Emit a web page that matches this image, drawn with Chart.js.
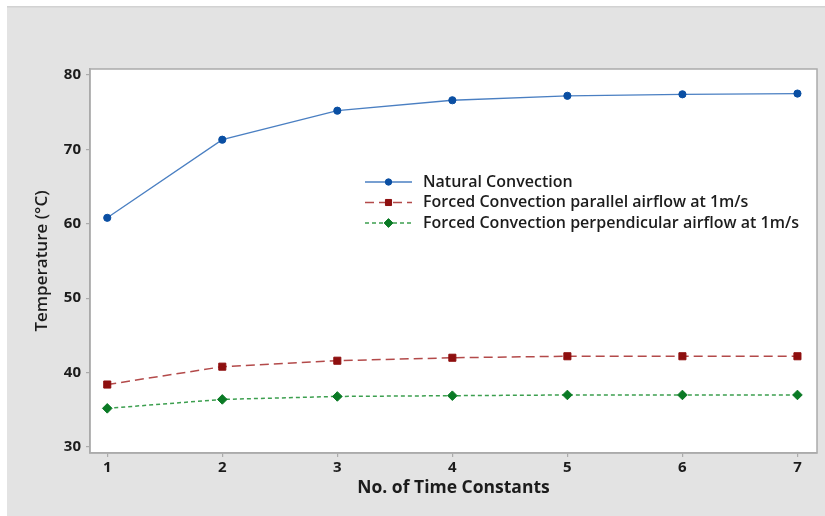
<!DOCTYPE html>
<html>
<head>
<meta charset="utf-8">
<script src="https://cdn.jsdelivr.net/npm/chart.js@4.4.1/dist/chart.umd.min.js"></script>
<style>
  html, body { margin: 0; padding: 0; background: #ffffff; }
  #wrap { width: 825px; height: 516px; }
</style>
</head>
<body>
<div id="wrap"><canvas id="c" width="825" height="516"></canvas></div>
<script>
// Time constants (x) and steady temperatures per cooling case
const timeConstants = [1, 2, 3, 4, 5, 6, 7];
const naturalConvection = [60.8, 71.3, 75.2, 76.6, 77.2, 77.4, 77.5];
const forcedParallel = [38.4, 40.8, 41.6, 42.0, 42.2, 42.2, 42.2];
const forcedPerpendicular = [35.2, 36.4, 36.8, 36.9, 37.0, 37.0, 37.0];
const yTickValues = [30, 40, 50, 60, 70, 80];
const seriesNames = [
  'Natural Convection',
  'Forced Convection parallel airflow at 1m/s',
  'Forced Convection perpendicular airflow at 1m/s'
];

const FONT = '"Open Sans", "DejaVu Sans", sans-serif';
const TEXT = '#1c1c1c';
const FRAME = '#ababab';

function pts(vals) {
  return vals.map((v, i) => ({ x: timeConstants[i], y: v }));
}

// Panel background, white plot area and frame
const panelPlugin = {
  id: 'panel',
  beforeDraw(chart) {
    const { ctx, chartArea: a } = chart;
    ctx.save();
    ctx.fillStyle = '#ffffff';
    ctx.fillRect(0, 0, chart.width, chart.height);
    ctx.fillStyle = '#e3e3e3';
    ctx.fillRect(7, 7, chart.width - 7, chart.height - 7);
    ctx.fillStyle = '#d2d2d2';
    ctx.fillRect(7, 6, chart.width - 7, 1.5);
    ctx.fillStyle = '#ffffff';
    ctx.fillRect(a.left, a.top, a.right - a.left, a.bottom - a.top);
    ctx.restore();
  },
  afterDatasetsDraw(chart) {
    const { ctx, chartArea: a } = chart;
    ctx.save();
    ctx.strokeStyle = FRAME;
    ctx.lineWidth = 1.5;
    ctx.strokeRect(a.left, a.top, a.right - a.left, a.bottom - a.top);
    ctx.restore();
  }
};

// Legend drawn inside the plot area using each dataset's own styling
const insideLegend = {
  id: 'insideLegend',
  afterDraw(chart, args, opts) {
    const { ctx } = chart;
    ctx.save();
    chart.data.datasets.forEach((ds, i) => {
      const y = opts.top + i * opts.rowGap;
      ctx.strokeStyle = ds.borderColor;
      ctx.lineWidth = ds.borderWidth;
      ctx.setLineDash(ds.borderDash || []);
      ctx.beginPath();
      ctx.moveTo(opts.left, y);
      ctx.lineTo(opts.left + opts.sample, y);
      ctx.stroke();
      ctx.setLineDash([]);
      ctx.fillStyle = ds.pointBackgroundColor;
      ctx.strokeStyle = ds.pointBorderColor;
      ctx.lineWidth = 1;
      Chart.helpers.drawPoint(ctx, {
        pointStyle: ds.pointStyle,
        radius: opts.markerRadius[i],
        borderWidth: 1,
        rotation: 0
      }, opts.left + opts.sample / 2, y);
      ctx.fillStyle = TEXT;
      ctx.font = '600 16px ' + FONT;
      ctx.textBaseline = 'middle';
      ctx.textAlign = 'left';
      ctx.fillText(ds.label, opts.textX, y);
    });
    ctx.restore();
  }
};

const chart = new Chart(document.getElementById('c'), {
  type: 'line',
  data: {
    datasets: [
      {
        label: seriesNames[0],
        data: pts(naturalConvection),
        borderColor: '#4a7fc2',
        borderWidth: 1.3,
        pointStyle: 'circle',
        pointRadius: 3.6,
        pointBackgroundColor: '#0a4fa3',
        pointBorderColor: '#0a4fa3',
        pointBorderWidth: 1,
        tension: 0
      },
      {
        label: seriesNames[1],
        data: pts(forcedParallel),
        borderColor: '#b34a4a',
        borderWidth: 1.5,
        borderDash: [9, 5],
        pointStyle: 'rect',
        pointRadius: 5,
        pointBackgroundColor: '#8e0f0f',
        pointBorderColor: '#8e0f0f',
        pointBorderWidth: 1,
        tension: 0
      },
      {
        label: seriesNames[2],
        data: pts(forcedPerpendicular),
        borderColor: '#3c9f4f',
        borderWidth: 1.5,
        borderDash: [4, 3],
        pointStyle: 'rectRot',
        pointRadius: 4.8,
        pointBackgroundColor: '#0a7a25',
        pointBorderColor: '#0a7a25',
        pointBorderWidth: 1,
        tension: 0
      }
    ]
  },
  options: {
    responsive: false,
    animation: false,
    devicePixelRatio: 1,
    layout: { padding: { top: 69, right: 8, left: 0, bottom: 0 } },
    plugins: {
      legend: { display: false },
      tooltip: { enabled: false },
      insideLegend: {
        left: 365, sample: 47, textX: 423, top: 182, rowGap: 20.5,
        markerRadius: [3.2, 4.3, 4.4]
      }
    },
    scales: {
      x: {
        type: 'linear',
        min: 0.85,
        max: 7.17,
        afterBuildTicks(s) { s.ticks = timeConstants.map(v => ({ value: v })); },
        afterFit(s) { s.height = 63; },
        ticks: {
          font: { family: FONT, size: 15, weight: 'bold' },
          color: TEXT,
          padding: 2,
          maxRotation: 0
        },
        grid: { drawOnChartArea: false, drawTicks: true, tickLength: 4, color: FRAME, lineWidth: 1.2 },
        border: { display: true, color: FRAME, width: 1.5 },
        title: {
          display: true,
          text: 'No. of Time Constants',
          font: { family: FONT, size: 17.5, weight: 'bold' },
          color: TEXT,
          padding: { top: 0, bottom: 17 }
        }
      },
      y: {
        type: 'linear',
        min: 29.2,
        max: 80.8,
        afterBuildTicks(s) { s.ticks = yTickValues.map(v => ({ value: v })); },
        afterFit(s) { s.width = 90; },
        ticks: {
          font: { family: FONT, size: 15, weight: 'bold' },
          color: TEXT,
          padding: 5
        },
        grid: { drawOnChartArea: false, drawTicks: true, tickLength: 4, color: FRAME, lineWidth: 1.2 },
        border: { display: true, color: FRAME, width: 1.5 },
        title: {
          display: true,
          text: 'Temperature (°C)',
          font: { family: FONT, size: 17, weight: '600' },
          color: TEXT,
          padding: { top: 32, bottom: 0 }
        }
      }
    }
  },
  plugins: [panelPlugin, insideLegend]
});
</script>
</body>
</html>
